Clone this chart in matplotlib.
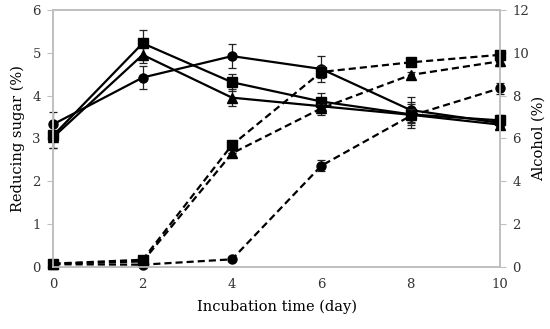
import numpy as np
import matplotlib.pyplot as plt

# incubation days
days = [0, 2, 4, 6, 8, 10]

# reducing sugar (%) - solid lines, left axis
sugar_circle = [3.33, 4.42, 4.92, 4.62, 3.66, 3.36]
sugar_square = [3.07, 5.22, 4.31, 3.86, 3.56, 3.42]
sugar_triangle = [3.03, 4.95, 3.95, 3.75, 3.55, 3.32]
sugar_circle_err = [0.28, 0.26, 0.28, 0.3, 0.3, 0.1]
sugar_square_err = [0.3, 0.3, 0.2, 0.2, 0.25, 0.12]
sugar_triangle_err = [0.25, 0.2, 0.2, 0.2, 0.3, 0.1]

# alcohol (%) - dashed lines, right axis
alc_circle = [0.12, 0.1, 0.35, 4.72, 7.05, 8.34]
alc_square = [0.15, 0.33, 5.69, 9.1, 9.55, 9.9]
alc_triangle = [0.15, 0.25, 5.3, 7.4, 8.96, 9.6]
alc_circle_err = [0, 0, 0, 0.25, 0.3, 0.25]
alc_square_err = [0, 0, 0, 0.3, 0.15, 0.2]
alc_triangle_err = [0, 0, 0, 0.2, 0.15, 0.2]

plt.rcParams['font.family'] = 'DejaVu Serif'
plt.rcParams['font.size'] = 9.5

fig = plt.figure(figsize=(5.5, 3.29), dpi=100)
ax = fig.add_axes([0.097, 0.189, 0.812, 0.781])
ax2 = ax.twinx()

kw = dict(color='black', linewidth=1.6, markersize=6.5, capsize=3,
          elinewidth=0.9, ecolor='#222222', capthick=0.9)
ax.errorbar(days, sugar_circle, yerr=sugar_circle_err, marker='o', linestyle='-', **kw)
ax.errorbar(days, sugar_square, yerr=sugar_square_err, marker='s', linestyle='-', **kw)
ax.errorbar(days, sugar_triangle, yerr=sugar_triangle_err, marker='^', linestyle='-', **kw)

dkw = dict(kw, dashes=(3.2, 1.8))
ax2.errorbar(days, alc_circle, yerr=alc_circle_err, marker='o', **dkw)
ax2.errorbar(days, alc_square, yerr=alc_square_err, marker='s', **dkw)
ax2.errorbar(days, alc_triangle, yerr=alc_triangle_err, marker='^', **dkw)

ax.set_xlim(0, 10)
ax.set_ylim(0, 6)
ax2.set_ylim(0, 12)
ax.set_xticks(days)
ax.set_yticks(range(0, 7))
ax2.set_yticks(range(0, 13, 2))

for a in (ax, ax2):
    for s in a.spines.values():
        s.set_color('#bfbfbf')
        s.set_linewidth(1.2)
    a.tick_params(colors='#333333', labelsize=9.5)
ax.tick_params(axis='x', length=0, pad=8)
ax.tick_params(axis='y', length=4, color='#bfbfbf', direction='out', pad=5)
ax2.tick_params(axis='y', length=4, color='#bfbfbf', direction='out', pad=5)

ax.set_xlabel('Incubation time (day)', fontsize=10.5, labelpad=6)
ax.set_ylabel('Reducing sugar (%)', fontsize=10.5, labelpad=5)
ax2.set_ylabel('Alcohol (%)', fontsize=10.5, labelpad=2)

for line in ax.lines + ax2.lines:
    line.set_clip_on(False)

fig.savefig('out.png', dpi=100)
